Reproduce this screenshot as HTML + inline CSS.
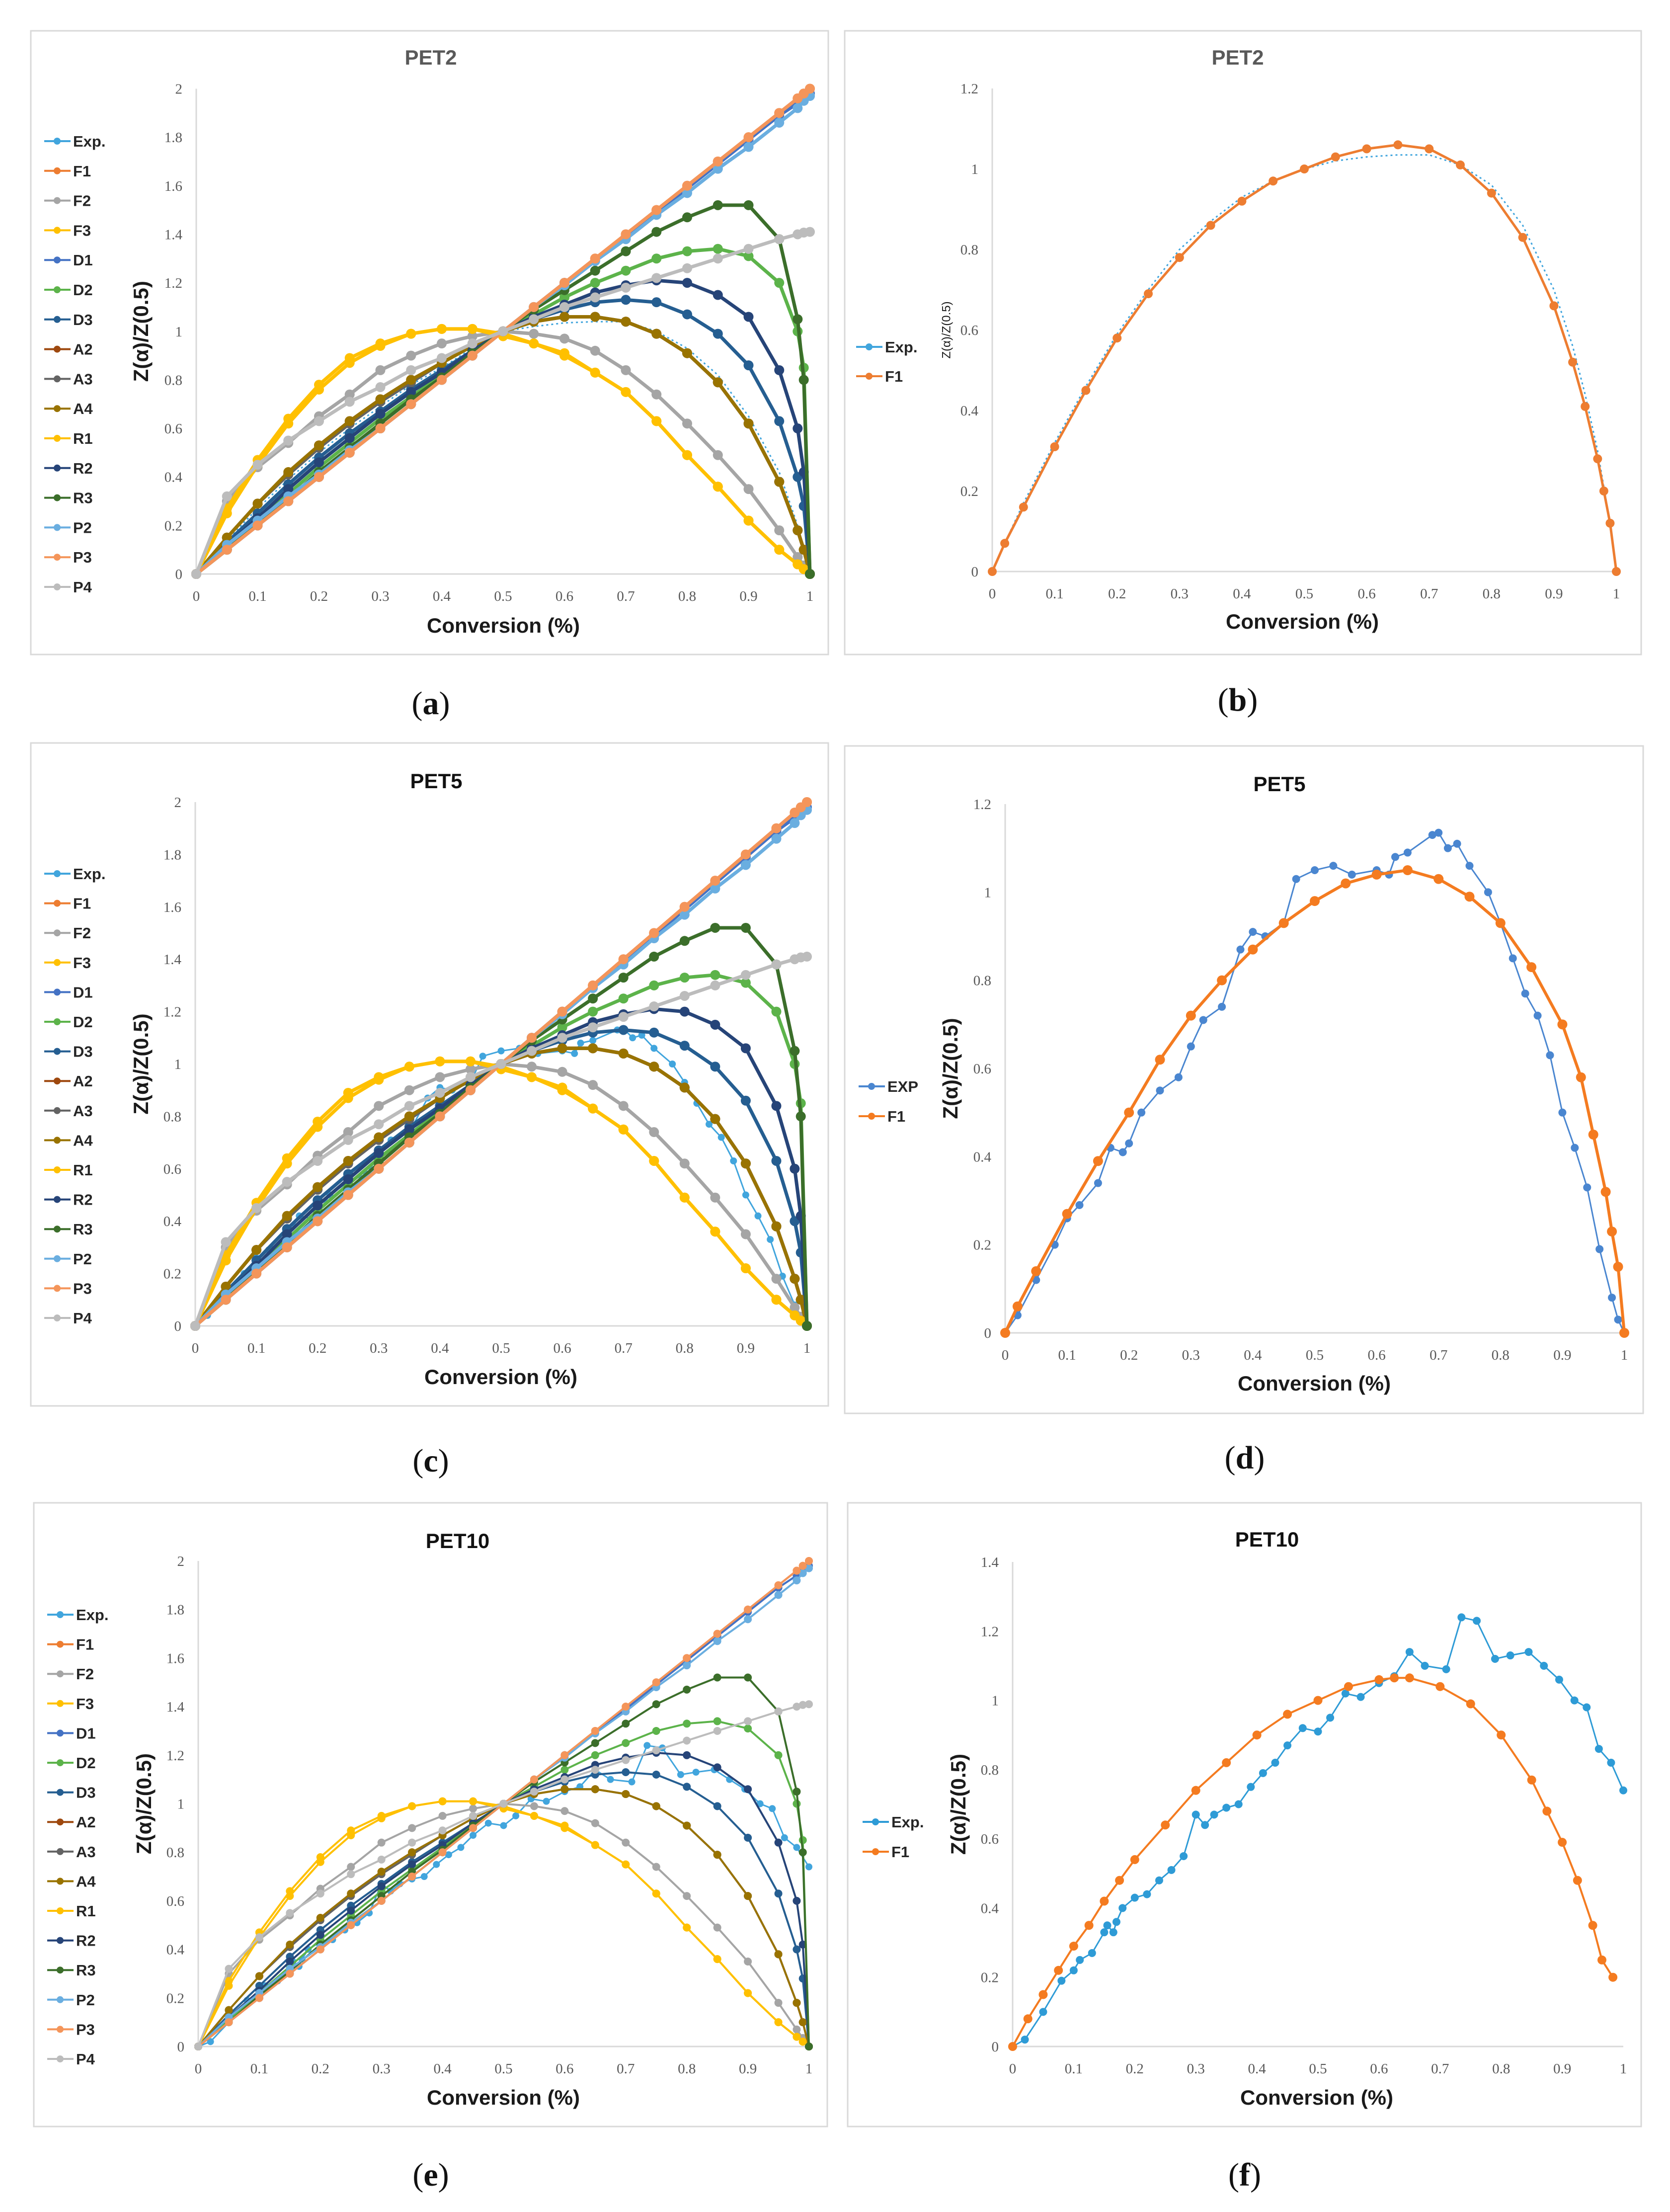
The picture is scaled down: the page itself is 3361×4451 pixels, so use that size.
<!DOCTYPE html>
<html><head><meta charset="utf-8">
<style>
html,body{margin:0;padding:0;background:#fff;}
svg{display:block;}
.tick{font-family:"Liberation Serif",serif;font-size:29px;fill:#595959;}
.leg{font-family:"Liberation Sans",sans-serif;font-size:31px;font-weight:bold;fill:#262626;}
.ttl{font-family:"Liberation Sans",sans-serif;font-size:42px;font-weight:bold;}
.axt{font-family:"Liberation Sans",sans-serif;font-size:42px;font-weight:bold;fill:#1a1a1a;}
.plab{font-family:"Liberation Serif",serif;font-size:66px;fill:#111;}
</style></head>
<body>
<svg id="fig" xmlns="http://www.w3.org/2000/svg" width="3361" height="4451" viewBox="0 0 3361 4451">
<rect x="0" y="0" width="3361" height="4451" fill="#fff"/>
</svg>
<script>
// ---- data ----
const alphaGrid = [0,0.05,0.1,0.15,0.2,0.25,0.3,0.35,0.4,0.45,0.5,0.55,0.6,0.65,0.7,0.75,0.8,0.85,0.9,0.95,0.98,0.99,1];
const seriesNames = ["Exp.","F1","F2","F3","D1","D2","D3","A2","A3","A4","R1","R2","R3","P2","P3","P4"];
const expA = [0,.14,.27,.39,.5,.6,.69,.78,.85,.93,1,1.02,1.035,1.04,1.04,1.0,.93,.82,.65,.42,.2,.1,0];
const F1v = [0,.1,.2,.3,.4,.5,.6,.7,.8,.9,1,1.1,1.2,1.3,1.4,1.5,1.6,1.7,1.8,1.9,1.96,1.98,2];
const F2v = [0,.3,.44,.54,.65,.74,.84,.9,.95,.98,1,.99,.97,.92,.84,.74,.62,.49,.35,.18,.07,.035,0];
const F3v = [0,.27,.47,.64,.78,.89,.95,.99,1.01,1.01,.98,.95,.91,.83,.75,.63,.49,.36,.22,.1,.04,.02,0];
const D1v = [0,.1,.2,.3,.4,.5,.6,.7,.8,.9,1,1.1,1.2,1.29,1.39,1.49,1.59,1.69,1.79,1.89,1.94,1.96,1.98];
const D2v = [0,.11,.22,.33,.44,.54,.64,.73,.82,.91,1,1.07,1.14,1.2,1.25,1.3,1.33,1.34,1.31,1.2,1.0,.85,0];
const D3v = [0,.13,.25,.37,.48,.58,.67,.76,.84,.92,1,1.05,1.09,1.12,1.13,1.12,1.07,.99,.86,.63,.4,.28,0];
const A2v = [0,.15,.29,.41,.53,.63,.72,.8,.87,.94,1,1.04,1.06,1.06,1.04,.99,.91,.79,.62,.38,.18,.1,0];
const A3v = [0,.15,.29,.41,.52,.62,.71,.79,.87,.94,1,1.04,1.06,1.06,1.04,.99,.91,.79,.62,.38,.18,.1,0];
const A4v = [0,.15,.29,.42,.53,.63,.72,.8,.87,.94,1,1.04,1.06,1.06,1.04,.99,.91,.79,.62,.38,.18,.1,0];
const R1v = [0,.25,.45,.62,.76,.87,.94,.99,1.01,1.01,.99,.95,.9,.83,.75,.63,.49,.36,.22,.1,.04,.02,0];
const R2v = [0,.12,.23,.35,.46,.56,.66,.75,.83,.92,1,1.06,1.11,1.16,1.19,1.21,1.2,1.15,1.06,.84,.6,.42,0];
const R3v = [0,.1,.21,.31,.42,.52,.62,.72,.81,.91,1,1.09,1.17,1.25,1.33,1.41,1.47,1.52,1.52,1.38,1.05,.8,0];
const P2v = [0,.12,.22,.32,.41,.51,.6,.7,.8,.9,1,1.1,1.19,1.29,1.38,1.48,1.57,1.67,1.76,1.86,1.92,1.95,1.97];
const P3v = [0,.1,.2,.3,.4,.5,.6,.7,.8,.9,1,1.1,1.2,1.3,1.4,1.5,1.6,1.7,1.8,1.9,1.96,1.98,2];
const P4v = [0,.32,.45,.55,.63,.71,.77,.84,.89,.95,1,1.05,1.1,1.14,1.18,1.22,1.26,1.3,1.34,1.38,1.40,1.407,1.41];
// PET5 experimental
const exp5X = [0,.02,.05,.08,.1,.12,.15,.17,.19,.2,.22,.25,.28,.3,.32,.35,.38,.4,.42,.45,.47,.5,.53,.56,.6,.62,.63,.65,.69,.7,.715,.73,.75,.78,.8,.82,.84,.86,.88,.9,.92,.94,.96,.98,.99,1];
const exp5Y = [0,.04,.12,.2,.26,.29,.34,.42,.41,.43,.5,.55,.58,.65,.71,.74,.87,.91,.9,.93,1.03,1.05,1.06,1.04,1.05,1.04,1.08,1.09,1.13,1.135,1.1,1.11,1.06,1.0,.93,.85,.77,.72,.63,.5,.42,.33,.19,.08,.03,0];
// F1 fits
const fitX = [0,.02,.05,.1,.15,.2,.25,.3,.35,.4,.45,.5,.55,.6,.65,.7,.75,.8,.85,.9,.93,.95,.97,.98,.99,1];
const fit5Y = [0,.06,.14,.27,.39,.5,.62,.72,.8,.87,.93,.98,1.02,1.04,1.05,1.03,.99,.93,.83,.7,.58,.45,.32,.23,.15,0];
const fit2Y = [0,.07,.16,.31,.45,.58,.69,.78,.86,.92,.97,1.0,1.03,1.05,1.06,1.05,1.01,.94,.83,.66,.52,.41,.28,.2,.12,0];
const expBY = [0,.07,.17,.32,.46,.59,.7,.8,.87,.93,.97,1.0,1.02,1.03,1.035,1.035,1.01,.96,.86,.7,.56,.44,.3,.21,.12,0];
// PET10 experimental
const exp10X = [0,.02,.05,.08,.1,.11,.13,.15,.155,.165,.17,.18,.2,.22,.24,.26,.28,.3,.315,.33,.35,.37,.39,.41,.43,.45,.475,.5,.52,.545,.57,.6,.625,.65,.675,.71,.735,.76,.79,.815,.845,.87,.895,.92,.94,.96,.98,1];
const exp10Y = [0,.02,.1,.19,.22,.25,.27,.33,.35,.33,.36,.4,.43,.44,.48,.51,.55,.67,.64,.67,.69,.7,.75,.79,.82,.87,.92,.91,.95,1.02,1.01,1.05,1.07,1.14,1.1,1.09,1.24,1.23,1.12,1.13,1.14,1.1,1.06,1.0,.98,.86,.82,.74];
const fit10X = [0,.025,.05,.075,.1,.125,.15,.175,.2,.25,.3,.35,.4,.45,.5,.55,.6,.625,.65,.7,.75,.8,.85,.875,.9,.925,.95,.965,.983];
const fit10Y = [0,.08,.15,.22,.29,.35,.42,.48,.54,.64,.74,.82,.9,.96,1.0,1.04,1.06,1.065,1.065,1.04,.99,.9,.77,.68,.59,.48,.35,.25,.2];
const xTicks = [0,0.1,0.2,0.3,0.4,0.5,0.6,0.7,0.8,0.9,1];
const xTickLabels = ["0","0.1","0.2","0.3","0.4","0.5","0.6","0.7","0.8","0.9","1"];

const NS="http://www.w3.org/2000/svg";
const svg=document.getElementById('fig');
function mk(tag,attrs,parent){const e=document.createElementNS(NS,tag);for(const k in attrs)e.setAttribute(k,attrs[k]);(parent||svg).appendChild(e);return e;}

const modelColors={"Exp.":"#41a5dd","F1":"#ed7d31","F2":"#a5a5a5","F3":"#ffc000","D1":"#4472c4","D2":"#5cb34a","D3":"#255e91","A2":"#9e480e","A3":"#636363","A4":"#997300","R1":"#ffc000","R2":"#264478","R3":"#3b6e2a","P2":"#6aaee0","P3":"#f4955a","P4":"#bcbcbc"};
const modelVals={"F1":F1v,"F2":F2v,"F3":F3v,"D1":D1v,"D2":D2v,"D3":D3v,"A2":A2v,"A3":A3v,"A4":A4v,"R1":R1v,"R2":R2v,"R3":R3v,"P2":P2v,"P3":P3v,"P4":P4v};

function panel(p){
  const g=mk('g',{});
  
  
  const fr=mk('rect',{x:p.fx,y:p.fy,width:p.fw,height:p.fh,fill:'#fff',stroke:'#d9d9d9','stroke-width':3},g);
  
  
  const sx=v=>p.x0+(p.x1-p.x0)*v;
  const sy=v=>p.y0-(p.y0-p.yt)*v/p.ymax;
  const ya=mk('line',{x1:p.x0,y1:p.y0,x2:p.x0,y2:p.yt,stroke:'#d9d9d9','stroke-width':3},g);
  
  
  const xa=mk('line',{x1:p.x0,y1:p.y0,x2:p.x1,y2:p.y0,stroke:'#d9d9d9','stroke-width':3},g);
  
  
  for(let v=0;v<=p.ymax+1e-9;v+=0.2){
    const t=mk('text',{x:p.x0-28,y:sy(v)+10,'text-anchor':'end',class:'tick'},g);
    t.textContent=(Math.round(v*10)/10).toString();
    
    
  }
  xTicks.forEach((v,i)=>{
    const t=mk('text',{x:sx(v),y:p.y0+54,'text-anchor':'middle',class:'tick'},g);
    t.textContent=xTickLabels[i];
    
    
  });
  const tt=mk('text',{x:p.tx,y:p.ty+15,'text-anchor':'middle',class:'ttl',fill:p.tcol},g);
  tt.textContent=p.title;
  
  
  const xt=mk('text',{x:p.xtx,y:p.xty+15,'text-anchor':'middle',class:'axt'},g);
  xt.textContent='Conversion (%)';
  
  
  const yc=(p.y0+p.yt)/2;
  const yt=mk('text',{x:p.ytx,y:yc,'text-anchor':'middle',class:'axt',transform:'rotate(-90 '+p.ytx+' '+yc+')','dominant-baseline':'middle'},g);
  if(p.smallY){yt.setAttribute('style','font-size:24px;font-weight:normal;');}
  yt.textContent='Z(α)/Z(0.5)';
  
  
  const pl=mk('text',{x:p.lx,y:p.ly+22,'text-anchor':'middle',class:'plab'},g);
  pl.innerHTML='(<tspan font-weight="bold">'+p.id+'</tspan>)';
  
  
  p.series.forEach(s=>{
    const sg=mk('g',{},g);
    
    
    const pts=s.xs.map((x,i)=>sx(x).toFixed(1)+','+sy(s.ys[i]).toFixed(1)).join(' ');
    const ln=mk('polyline',{points:pts,fill:'none',stroke:s.color,'stroke-width':s.lw||4,'stroke-linejoin':'round'},sg);
    if(s.dash)ln.setAttribute('stroke-dasharray',s.dash);
    
    
    if(!s.noMarkers){
      s.xs.forEach((x,i)=>{
        const c=mk('circle',{cx:sx(x),cy:sy(s.ys[i]),r:s.r||8,fill:s.color},sg);
        
        
      });
    }
  });
  p.legend.forEach((n,i)=>{
    const ly=p.legY+i*p.legStep;
    const lg=mk('g',{},g);
    
    
    mk('line',{x1:p.legX,y1:ly,x2:p.legX+53,y2:ly,stroke:p.legColors[i],'stroke-width':4},lg);
    mk('circle',{cx:p.legX+26,cy:ly,r:7,fill:p.legColors[i]},lg);
    const t=mk('text',{x:p.legX+58,y:ly+11,class:'leg'},lg);
    t.textContent=n;
  });
}

function modelSeries(expSeries,lw,r){
  const arr=[expSeries];
  seriesNames.slice(1).forEach(n=>arr.push({name:n,xs:alphaGrid,ys:modelVals[n],color:modelColors[n],lw:lw,r:r}));
  return arr;
}
const bigLegendColors=seriesNames.map(n=>modelColors[n]);

panel({id:'a',fx:62,fy:62,fw:1605,fh:1255,x0:395,x1:1630,y0:1155,yt:178.5,ymax:2,title:'PET2',tcol:'#595959',tx:867,ty:115,xtx:1013,xty:1258,ytx:287,lx:867,ly:1415,
  series:modelSeries({name:'Exp.',xs:alphaGrid,ys:expA,color:'#41a5dd',lw:3,dash:'4 6',noMarkers:true},7,10),
  legend:seriesNames,legColors:bigLegendColors,legX:89,legY:284,legStep:59.8});
panel({id:'b',fx:1700,fy:62,fw:1603,fh:1255,x0:1997,x1:3253,y0:1150,yt:178,ymax:1.2,title:'PET2',tcol:'#595959',tx:2491,ty:115,xtx:2621,xty:1250,ytx:1906,smallY:true,lx:2491,ly:1408,
  series:[{name:'Exp.',xs:fitX,ys:expBY,color:'#41a5dd',lw:3,dash:'4 6',noMarkers:true},{name:'F1',xs:fitX,ys:fit2Y,color:'#ed7d31',lw:5,r:9}],
  legend:['Exp.','F1'],legColors:['#41a5dd','#ed7d31'],legX:1723,legY:698,legStep:59});
panel({id:'c',fx:62,fy:1495,fw:1605,fh:1334,x0:393,x1:1624,y0:2668,yt:1614,ymax:2,title:'PET5',tcol:'#111',tx:878,ty:1571,xtx:1008,xty:2770,ytx:287,lx:867,ly:2939,
  series:modelSeries({name:'Exp.',xs:exp5X,ys:exp5Y,color:'#41a5dd',lw:3,r:7},7,10),
  legend:seriesNames,legColors:bigLegendColors,legX:89,legY:1758,legStep:59.6});
panel({id:'d',fx:1700,fy:1501,fw:1607,fh:1343,x0:2023,x1:3269,y0:2682,yt:1618,ymax:1.2,title:'PET5',tcol:'#111',tx:2575,ty:1577,xtx:2645,xty:2783,ytx:1916,lx:2505,ly:2933,
  series:[{name:'EXP',xs:exp5X,ys:exp5Y,color:'#4a86d0',lw:3,r:8},{name:'F1',xs:fitX,ys:fit5Y,color:'#f47b20',lw:6,r:10}],
  legend:['EXP','F1'],legColors:['#4a86d0','#f47b20'],legX:1728,legY:2186,legStep:60});
panel({id:'e',fx:68,fy:3024,fw:1597,fh:1255,x0:399,x1:1628,y0:4118,yt:3141,ymax:2,title:'PET10',tcol:'#111',tx:921,ty:3100,xtx:1013,xty:4220,ytx:293,lx:867,ly:4376,
  series:modelSeries({name:'Exp.',xs:exp10X,ys:exp10Y,color:'#41a5dd',lw:3,r:7},4,8),
  legend:seriesNames,legColors:bigLegendColors,legX:95,legY:3249,legStep:59.6});
panel({id:'f',fx:1706,fy:3024,fw:1597,fh:1255,x0:2038,x1:3267,y0:4118,yt:3143,ymax:1.4,title:'PET10',tcol:'#111',tx:2550,ty:3097,xtx:2650,xty:4220,ytx:1932,lx:2505,ly:4376,
  series:[{name:'Exp.',xs:exp10X,ys:exp10Y,color:'#2e9bd6',lw:3,r:8},{name:'F1',xs:fit10X,ys:fit10Y,color:'#f47b20',lw:4,r:9}],
  legend:['Exp.','F1'],legColors:['#2e9bd6','#f47b20'],legX:1736,legY:3666,legStep:60});
</script>
</body></html>
